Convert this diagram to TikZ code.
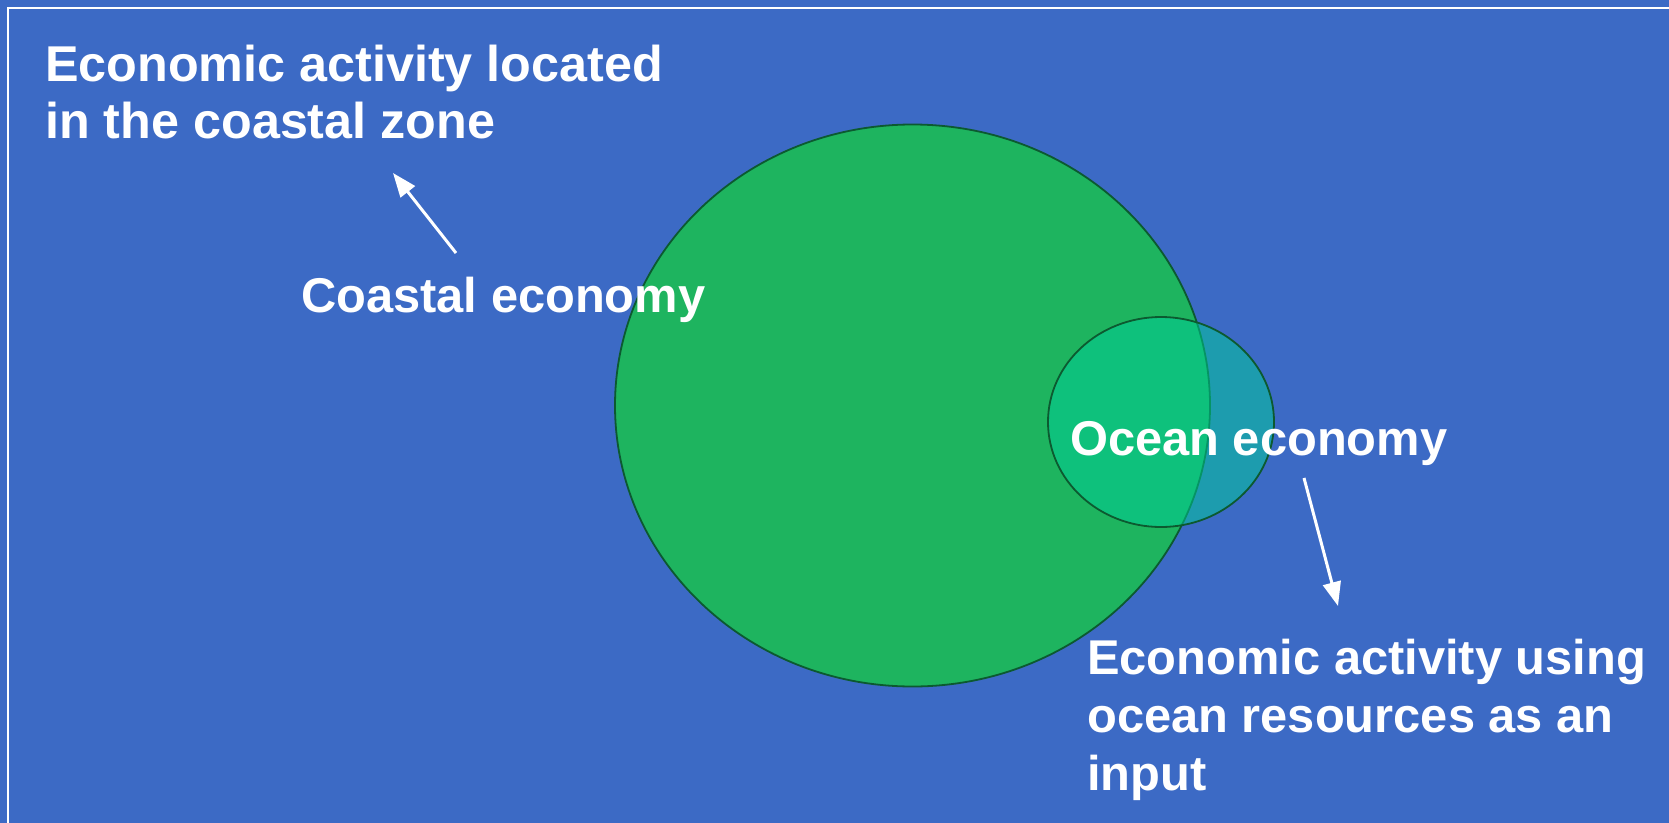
\documentclass[tikz,border=0pt]{standalone}
\usepackage{fontspec}
\setmainfont{Liberation Sans}
\usetikzlibrary{arrows.meta}
\definecolor{bgblue}{RGB}{60,106,197}
\definecolor{biggreen}{RGB}{30,180,95}
\definecolor{edgegreen}{RGB}{12,90,48}
\definecolor{oceanfill}{RGB}{0,206,153}
\tikzset{
  lbl/.style={text=white, inner sep=0pt, font=\bfseries\fontsize{49}{58}\selectfont, align=left},
  ptr/.style={draw=white, line width=3bp, -{Triangle[length=24bp,width=18bp]}},
}
\begin{document}
\begin{tikzpicture}[x=1bp,y=-1bp]
\useasboundingbox (0,0) rectangle (1669,823);
\fill[bgblue] (0,0) rectangle (1669,823);
\draw[white, line width=2bp] (8,830) -- (8,7.8) -- (1680,7.8);
% circles
\draw[fill=biggreen, draw=edgegreen, line width=1.8bp] (912.5,405.5) ellipse [x radius=297.5, y radius=281];
\draw[fill=oceanfill, fill opacity=0.5, draw=edgegreen, line width=1.8bp] (1161,422) ellipse [x radius=113, y radius=105];
% labels (base anchor = baseline of the last line)
\node[lbl, anchor=base west, font=\bfseries\fontsize{50.5}{57}\selectfont] (zone) at (45,138) {Economic activity located\\in the coastal zone};
\node[lbl, anchor=base west] (coastal) at (301,312) {Coastal economy};
\node[lbl, anchor=base west] (ocean) at (1070,455) {Ocean economy};
\node[lbl, anchor=base west] (input) at (1087,790) {Economic activity using\\ocean resources as an\\input};
% arrows
\coordinate (a1s) at (456,253);
\coordinate (a1e) at (393,173);
\coordinate (a2s) at (1304,478);
\coordinate (a2e) at (1338,606);
\draw[ptr] (a1s) -- (a1e);
\draw[ptr] (a2s) -- (a2e);
\end{tikzpicture}
\end{document}
